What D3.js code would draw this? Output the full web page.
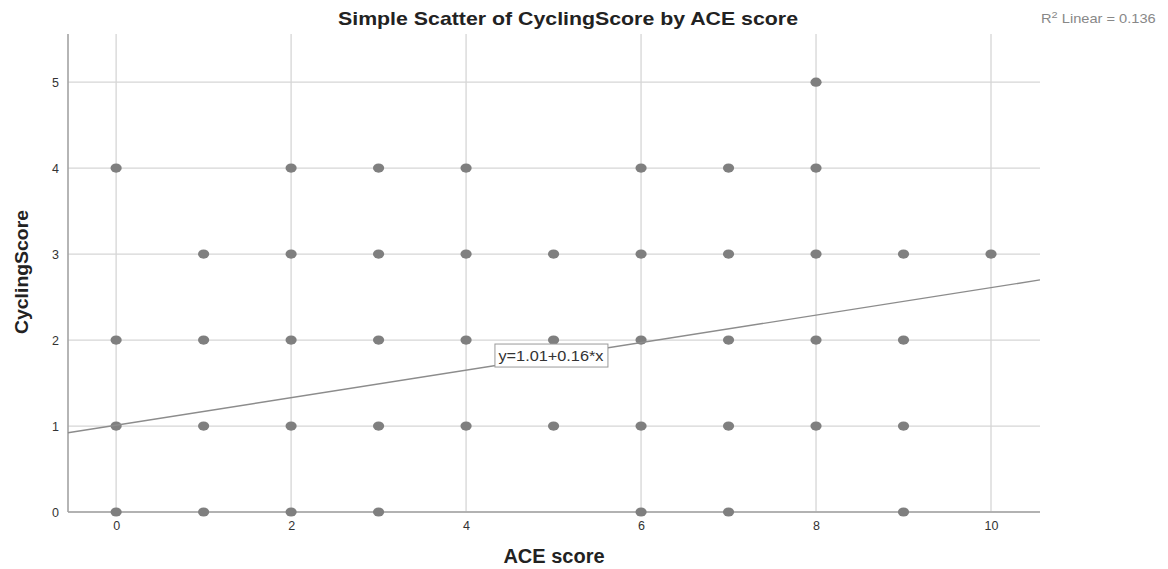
<!DOCTYPE html>
<html>
<head>
<meta charset="utf-8">
<script src="https://cdn.jsdelivr.net/npm/d3@7"></script>
<style>
  html, body { margin: 0; padding: 0; background: #fff; }
  svg { display: block; }
</style>
</head>
<body>
<svg id="chart" width="1168" height="569"></svg>
<script>
// ACE score (x) and CyclingScore (y) observed pairs
const aceScores = [0,0,0,0, 1,1,1,1, 2,2,2,2,2, 3,3,3,3,3, 4,4,4,4, 5,5,5, 6,6,6,6,6, 7,7,7,7,7, 8,8,8,8,8, 9,9,9,9, 10];
const cyclingScores = [4,2,1,0, 3,2,1,0, 4,3,2,1,0, 4,3,2,1,0, 4,3,2,1, 3,2,1, 4,3,2,1,0, 4,3,2,1,0, 5,4,3,2,1, 3,2,1,0, 3];
const xTicks = [0, 2, 4, 6, 8, 10];
const yTicks = [0, 1, 2, 3, 4, 5];
const fitIntercept = 1.01;
const fitSlope = 0.16;
const rSquared = 0.136;

const svg = d3.select("#chart");
const plotLeft = 68, plotRight = 1040, plotTop = 34, plotBottom = 512;
const font = "Liberation Sans, Arial, sans-serif";

const x = d3.scaleLinear().domain([-0.55, 10.56]).range([plotLeft, plotRight]);
const y = d3.scaleLinear().domain([0, 5.56]).range([plotBottom, plotTop]);

// gridlines
svg.append("g").selectAll("line").data(xTicks).join("line")
  .attr("x1", d => x(d)).attr("x2", d => x(d))
  .attr("y1", plotTop).attr("y2", plotBottom)
  .attr("stroke", "#d6d6d6").attr("stroke-width", 1.3);
svg.append("g").selectAll("line").data(yTicks).join("line")
  .attr("x1", plotLeft).attr("x2", plotRight)
  .attr("y1", d => y(d)).attr("y2", d => y(d))
  .attr("stroke", "#d6d6d6").attr("stroke-width", 1.3);

// axes
const xAxis = d3.axisBottom(x).tickValues(xTicks).tickFormat(d3.format("d")).tickSize(0).tickPadding(9);
const yAxis = d3.axisLeft(y).tickValues(yTicks).tickFormat(d3.format("d")).tickSize(0).tickPadding(9);
const gx = svg.append("g").attr("transform", `translate(0,${plotBottom})`).call(xAxis);
const gy = svg.append("g").attr("transform", `translate(${plotLeft},0)`).call(yAxis);
[gx, gy].forEach(g => {
  g.select(".domain").attr("stroke", "#a3a3a3").attr("stroke-width", 1.6);
  g.selectAll("text").attr("font-family", font).attr("font-size", 12.5).attr("fill", "#333");
});
gy.select(".domain").attr("d", `M0,${plotTop}V${plotBottom}`);
gx.select(".domain").attr("d", `M${plotLeft},0H${plotRight}`);

// points
svg.append("g").selectAll("ellipse").data(aceScores.map((a, i) => [a, cyclingScores[i]])).join("ellipse")
  .attr("cx", d => x(d[0])).attr("cy", d => y(d[1]))
  .attr("rx", 5.6).attr("ry", 4.6)
  .attr("fill", "#7f7f7f");

// fit line across the plotting area
const [x0, x1] = x.domain();
svg.append("line")
  .attr("x1", x(x0)).attr("y1", y(fitIntercept + fitSlope * x0))
  .attr("x2", x(x1)).attr("y2", y(fitIntercept + fitSlope * x1))
  .attr("stroke", "#8c8c8c").attr("stroke-width", 1.4);

// equation label
const eq = svg.append("g").attr("transform", `translate(${x(4.97)},${y(1.82)})`);
eq.append("rect").attr("x", -56).attr("y", -11.5).attr("width", 113).attr("height", 23)
  .attr("fill", "#fff").attr("stroke", "#9a9a9a").attr("stroke-width", 1);
eq.append("text").attr("text-anchor", "middle").attr("dy", "0.36em")
  .attr("font-family", font).attr("font-size", 14)
  .attr("textLength", 105).attr("lengthAdjust", "spacingAndGlyphs")
  .attr("fill", "#333").text(`y=${fitIntercept.toFixed(2)}+${fitSlope.toFixed(2)}*x`);

// title
svg.append("text").attr("x", 568).attr("y", 25).attr("text-anchor", "middle")
  .attr("font-family", font).attr("font-size", 19)
  .attr("textLength", 460).attr("lengthAdjust", "spacingAndGlyphs")
  .attr("font-weight", "bold").attr("fill", "#222")
  .text("Simple Scatter of CyclingScore by ACE score");

// R squared note, slightly widened
const rs = svg.append("text").attr("transform", "translate(1041,23) scale(1.22,1)")
  .attr("font-family", font).attr("font-size", 12).attr("fill", "#888");
rs.append("tspan").text("R");
rs.append("tspan").attr("dy", -5).attr("font-size", 9).text("2");
rs.append("tspan").attr("dy", 5).text(` Linear = ${rSquared.toFixed(3)}`);

// axis titles
svg.append("text").attr("x", 554).attr("y", 563).attr("text-anchor", "middle")
  .attr("font-family", font).attr("font-size", 20)
  .attr("font-weight", "bold").attr("fill", "#222").text("ACE score");
svg.append("text").attr("transform", "translate(28,272) rotate(-90)").attr("text-anchor", "middle")
  .attr("font-family", font).attr("font-size", 18)
  .attr("textLength", 124).attr("lengthAdjust", "spacingAndGlyphs")
  .attr("font-weight", "bold").attr("fill", "#222").text("CyclingScore");
</script>
</body>
</html>
